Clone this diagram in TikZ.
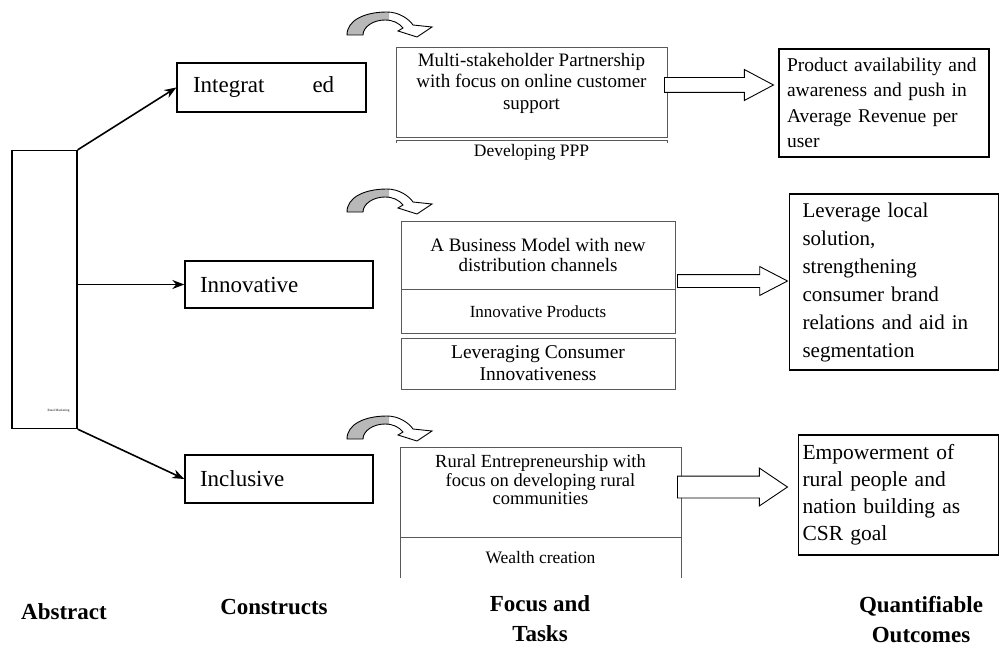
\documentclass[tikz,border=0pt]{standalone}
\usepackage{fontspec}
\setmainfont{Liberation Serif}
\usepackage{tikz}
\usetikzlibrary{arrows.meta,positioning,shapes.arrows}

\newcommand{\fsz}[2]{\fontsize{#1}{#2}\selectfont}

\begin{document}
\begin{tikzpicture}[
  x=1pt, y=-1pt,
  cbox/.style={draw,line width=1.3pt,minimum height=47pt,inner xsep=15pt,text width=158pt,align=left,font=\fsz{23}{27}},
  fbox/.style={draw=black!65,minimum width=274pt,align=center,font=\fsz{19}{20}},
  ftxt/.style={align=center,font=\fsz{19}{21.5},inner sep=0pt},
  obox/.style={draw,line width=1.1pt,align=left,inner ysep=0pt},
  blk/.style={single arrow,draw,fill=white,line width=0.9pt,anchor=tail,inner xsep=0pt,single arrow head extend=8pt},
  arr/.style={-{Stealth[length=12pt,width=9pt]},line width=1.6pt},
  ttl/.style={align=center,font=\bfseries\fsz{23}{30}},
  turn/.pic={
    \begin{scope}
      \clip (-2,-30) rectangle (42,2);
      \fill[black!28] (0,0) .. controls (0,-15) and (18,-23) .. (40,-23) .. controls (52,-23) and (62,-16) .. (66,-10)
        -- (85,-8) -- (70,2) -- (51,-4) -- (56,-7) .. controls (52,-12) and (46,-15) .. (38,-15)
        .. controls (26,-15) and (16,-8) .. (16,0) -- cycle;
    \end{scope}
    \draw[line width=0.9pt] (0,0) .. controls (0,-15) and (18,-23) .. (40,-23) .. controls (52,-23) and (62,-16) .. (66,-10)
      -- (85,-8) -- (70,2) -- (51,-4) -- (56,-7) .. controls (52,-12) and (46,-15) .. (38,-15)
      .. controls (26,-15) and (16,-8) .. (16,0) -- cycle;
  }
]
  \useasboundingbox (0,0) rectangle (1000,647);

  % abstract
  \node[draw,line width=1.3pt,minimum width=65pt,minimum height=278pt] (abs) at (44.5,289.5) {};
  \node[font=\fsz{3.3}{4}] (rm) at (58.5,411) {Rural Marketing};

  % constructs
  \node[cbox,text width=157pt,inner xsep=16pt,minimum height=49pt] (integ) at (271.5,87.5) {Integrat\hspace{48pt}ed};
  \node[cbox] (innov) at (279,284.5) {Innovative};
  \node[cbox,minimum height=48pt] (incl) at (279,479) {Inclusive};

  \draw[arr] (abs.north east) -- (integ.west);
  \draw[arr] (abs.east |- innov.west) -- (innov.west);
  \draw[arr] (abs.south east) -- (incl.west);

  % focus and tasks
  \pic at (347,35) {turn};
  \pic at (347,212) {turn};
  \pic at (347,439) {turn};

  \node[fbox,minimum width=271pt,minimum height=90pt] (f1) at (531.5,92) {};
  \node[ftxt,below=6pt of f1.north] (f1t) {Multi-stakeholder Partnership\\with focus on online customer\\support};
  \node[ftxt,font=\fsz{17.5}{20}] (f1p) at (531.5,152) {Developing PPP};
  \draw[black!65] ([yshift=-6pt]f1.south west) -- ([yshift=-3pt]f1.south west)
    -- ([yshift=-3pt]f1.south east) -- ([yshift=-6pt]f1.south east);

  \node[fbox,minimum height=68pt] (f2) at (538,255) {A Business Model with new\\distribution channels};
  \node[fbox,minimum height=44pt,font=\fsz{17}{20},below=0pt of f2] (f2b) {Innovative Products};
  \node[fbox,minimum height=51pt,font=\fsz{19.5}{22},below=4pt of f2b] (f2c) {Leveraging Consumer\\Innovativeness};

  \node[fbox,minimum width=281pt,minimum height=90pt] (f3) at (540.5,492) {};
  \node[ftxt,font=\fsz{18.5}{18.5},below=8pt of f3.north] (f3t) {Rural Entrepreneurship with\\focus on developing rural\\communities};
  \node[ftxt,font=\fsz{17.5}{20},minimum width=281pt,minimum height=40pt,below=0pt of f3] (f3b) {Wealth creation};
  \draw[black!65] (f3b.south west) -- (f3b.north west) (f3b.north east) -- (f3b.south east);

  % outcomes
  \node[blk,minimum height=109pt,inner ysep=7pt,single arrow tip angle=56] (b1) at (664,85) {};
  \node[blk,minimum height=110pt,inner ysep=6pt,single arrow tip angle=55] (b2) at (677,281) {};
  \node[blk,minimum height=110pt,inner ysep=10.5pt,single arrow tip angle=68] (b3) at (677,487) {};

  \node[obox,text width=194pt,inner xsep=8pt,minimum height=108pt,font=\fsz{19.5}{25.5}] (o1) at (884,103)
    {Product availability and\\awareness and push in\\Average Revenue per\\user};
  \node[obox,text width=183pt,inner xsep=13pt,minimum height=176pt,font=\fsz{21}{28}] (o2) at (894,282)
    {Leverage local\\solution,\\strengthening\\consumer brand\\relations and aid in\\segmentation};
  \node[obox,text width=192pt,inner xsep=4pt,minimum height=120pt,font=\fsz{21.5}{27}] (o3) at (898.5,495)
    {Empowerment of\\rural people and\\nation building as\\CSR goal};

  % column titles
  \node[ttl] (tabs) at (64,612) {Abstract};
  \node[ttl] (tcon) at (274,607) {Constructs};
  \node[ttl] (tfoc) at (540,619) {Focus and\\Tasks};
  \node[ttl] (tout) at (921,620) {Quantifiable\\Outcomes};
\end{tikzpicture}
\end{document}
